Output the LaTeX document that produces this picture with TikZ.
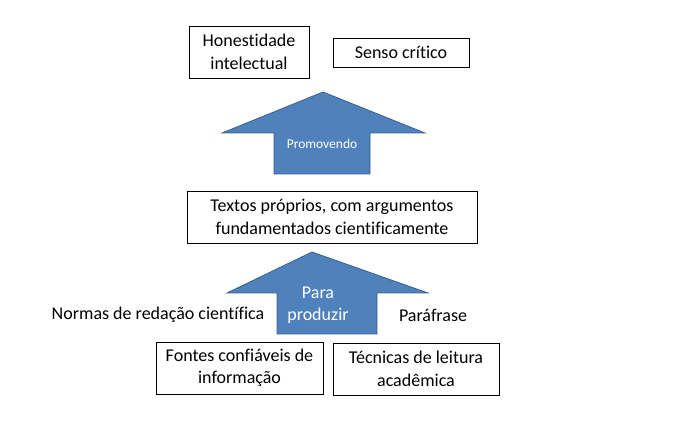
\documentclass[tikz,border=0pt]{standalone}
\usepackage{fontspec}
\setmainfont{Carlito}[Ligatures=NoCommon]
\begin{document}
\begin{tikzpicture}[x=1pt,y=-1pt,
  box/.style={draw=black,line width=0.8pt,fill=white,align=center,inner sep=0pt,font=\fontsize{18}{22.5}\selectfont},
  blockarrow/.style={fill=arrowfill,draw=arrowline,line width=0.8pt},
  lbl/.style={font=\fontsize{18}{22.5}\selectfont,inner sep=0pt},
  alabel/.style={text=white,align=center,inner sep=0pt}]
\definecolor{arrowfill}{HTML}{4F81BD}
\definecolor{arrowline}{HTML}{3A5F8B}
\useasboundingbox (0,0) rectangle (673,427);
% top boxes
\node[box,minimum width=120,minimum height=52] (hon) at (249,52) {Honestidade\\intelectual};
\node[box,minimum width=136,minimum height=29] (sen) at (401,52.5) {Senso crítico};
% upper arrow
\draw[blockarrow] (323,92) -- (425,133) -- (370,133) -- (370,174) -- (274,174) -- (274,133) -- (222,133) -- cycle;
\node[alabel,font=\fontsize{13.5}{16}\selectfont] (prom) at (322,144) {Promovendo};
% middle box
\node[box,minimum width=290,minimum height=52] (tex) at (332,217) {Textos próprios, com argumentos\\fundamentados cientificamente};
% lower arrow
\draw[blockarrow] (312,252) -- (428,293) -- (377,293) -- (377,334) -- (277,334) -- (277,293) -- (227,293) -- cycle;
\node[alabel,font=\fontsize{18}{22.5}\selectfont] (para) at (318,305) {Para\\produzir};
% side labels
\node[lbl] (nor) at (158,315) {Normas de redação científica};
\node[lbl] (paraf) at (433,315) {Paráfrase};
% bottom boxes
\node[box,minimum width=167,minimum height=52] (fon) at (239.5,368) {Fontes confiáveis de\\informação};
\node[box,minimum width=166,minimum height=52] (tec) at (416,369) {Técnicas de leitura\\acadêmica};
\end{tikzpicture}
\end{document}
